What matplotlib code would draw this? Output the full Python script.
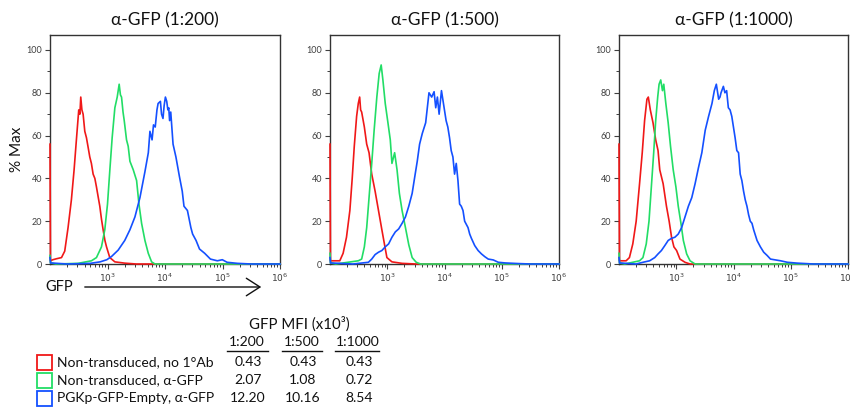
import numpy as np
import matplotlib
matplotlib.use("Agg")
import matplotlib.pyplot as plt
from matplotlib.patches import Rectangle
from matplotlib.lines import Line2D
from matplotlib.ticker import FixedLocator, FixedFormatter, NullFormatter

plt.rcParams['font.family'] = ['Lato', 'DejaVu Sans']

# ---------------- data (x in log10 GFP units, y in % Max) ----------------
titles = ["α-GFP (1:200)", "α-GFP (1:500)", "α-GFP (1:1000)"]
series_names = ["Non-transduced, no 1°Ab", "Non-transduced, α-GFP", "PGKp-GFP-Empty, α-GFP"]
dilutions = ["1:200", "1:500", "1:1000"]
mfi_200 = [0.43, 2.07, 12.20]
mfi_500 = [0.43, 1.08, 10.16]
mfi_1000 = [0.43, 0.72, 8.54]

red_200_x = [2.0, 2.008, 2.05, 2.12, 2.2, 2.256, 2.314, 2.372, 2.419, 2.459, 2.5, 2.52, 2.535, 2.555, 2.576,
             2.605, 2.634, 2.66, 2.692, 2.72, 2.75, 2.78, 2.808, 2.84, 2.866, 2.895, 2.924, 2.955, 2.983,
             3.04, 3.128, 3.3, 3.5, 6.0]
red_200_y = [56, 1.5, 2, 2.5, 3, 6, 17, 30, 44, 58, 72, 70, 78, 72, 70, 62, 59, 55, 50, 47, 42, 40, 36, 31,
             27, 21, 16, 11, 8, 3, 1, 0.4, 0, 0]

green_200_x = [2.0, 2.01, 2.1, 2.488, 2.721, 2.808, 2.895, 2.953, 3.0, 3.041, 3.081, 3.128, 3.169, 3.203,
               3.225, 3.244, 3.27, 3.291, 3.331, 3.36, 3.39, 3.448, 3.506, 3.547, 3.593, 3.651, 3.709, 3.767,
               3.826, 6.0]
green_200_y = [4, 0.5, 0, 0.3, 1.5, 3, 8, 16, 28, 44, 59, 73, 78, 84, 79, 78, 71, 67, 58, 55, 48, 44, 39, 28,
               19, 11, 5, 1, 0, 0]

blue_200_x = [2.0, 2.01, 2.3, 2.7, 2.872, 2.988, 3.07, 3.186, 3.30, 3.39, 3.477, 3.564, 3.65, 3.71, 3.738,
              3.775, 3.80, 3.83, 3.86, 3.88, 3.92, 3.94, 3.965, 3.985, 4.007, 4.03, 4.05, 4.065, 4.08, 4.1,
              4.14, 4.19, 4.25, 4.3, 4.33, 4.39, 4.45, 4.48, 4.54, 4.6, 4.69, 4.79, 4.91, 4.997, 5.08, 5.26,
              5.5, 6.0]
blue_200_y = [3, 0.5, 0, 0.3, 1, 2, 3.5, 6.5, 11, 16, 22, 31, 43, 52, 62, 58, 65, 64, 72, 75, 76, 70, 68, 74,
              78, 76, 72, 73, 67, 71, 56, 50, 41, 34, 27, 25, 17, 14, 11, 7, 5, 2.3, 1.5, 2, 0.8, 0.3, 0, 0]

red_500_x = [2.0, 2.008, 2.053, 2.171, 2.229, 2.288, 2.347, 2.388, 2.424, 2.465, 2.494, 2.518, 2.535, 2.553,
             2.6, 2.641, 2.682, 2.729, 2.788, 2.847, 2.906, 2.953, 2.994, 3.082, 3.259, 3.5, 6.0]
red_500_y = [56, 1.5, 1.5, 1.5, 5, 12.5, 25, 40, 55, 69, 75, 78, 72, 71, 64, 56, 52, 42, 34, 25, 16, 9, 3, 1,
             0.3, 0, 0]

green_500_x = [2.0, 2.01, 2.1, 2.494, 2.553, 2.6, 2.641, 2.682, 2.729, 2.771, 2.818, 2.859, 2.894, 2.924,
               2.965, 3.012, 3.053, 3.082, 3.129, 3.171, 3.212, 3.259, 3.318, 3.376, 3.435, 3.506, 3.582, 6.0]
green_500_y = [5, 0.5, 0, 1.5, 2.3, 8, 17, 31, 47, 62.5, 78, 89, 93, 86, 75, 66, 58, 47, 52, 44, 33, 25, 17,
               9, 3, 0.8, 0, 0]

blue_500_x = [2.0, 2.01, 2.4, 2.671, 2.729, 2.788, 2.847, 2.906, 2.965, 3.024, 3.082, 3.141, 3.2, 3.259,
              3.318, 3.376, 3.435, 3.482, 3.524, 3.565, 3.612, 3.671, 3.7, 3.729, 3.776, 3.818, 3.847, 3.876,
              3.906, 3.947, 3.999, 4.028, 4.058, 4.088, 4.117, 4.147, 4.176, 4.205, 4.235, 4.264, 4.293,
              4.323, 4.352, 4.411, 4.44, 4.47, 4.528, 4.587, 4.646, 4.705, 4.764, 4.852, 4.94, 5.058, 5.293,
              5.5, 6.0]
blue_500_y = [3, 0.5, 0, 0.8, 2.3, 4.4, 5.5, 6.3, 8, 9.4, 12.5, 15, 16.4, 19, 22, 27, 33, 41, 48, 56, 61, 66,
              73, 80, 78, 80.5, 73, 78, 70, 81, 72, 67, 64, 59, 53, 50, 42, 47, 39, 28, 27, 25, 20, 17, 14,
              12, 8.6, 6.3, 4.7, 3.4, 2.3, 1.9, 0.8, 0.5, 0.2, 0, 0]

red_1000_x = [2.0, 2.008, 2.035, 2.124, 2.182, 2.241, 2.3, 2.359, 2.406, 2.447, 2.488, 2.512, 2.547, 2.594,
              2.641, 2.682, 2.712, 2.771, 2.829, 2.876, 2.918, 2.959, 3.006, 3.065, 3.153, 3.241, 3.5, 6.0]
red_1000_y = [56, 1.5, 1.5, 1.5, 3, 9.4, 20, 37.5, 52, 67, 77, 78, 72, 66, 58, 53, 44, 37.5, 27, 20, 12.5,
              8, 6.3, 2.3, 0.8, 0, 0, 0]

green_1000_x = [2.0, 2.01, 2.1, 2.359, 2.418, 2.476, 2.524, 2.565, 2.606, 2.641, 2.676, 2.7, 2.729, 2.759,
                2.782, 2.818, 2.859, 2.9, 2.947, 2.994, 3.035, 3.082, 3.124, 3.182, 3.241, 3.329, 6.0]
green_1000_y = [5, 0.5, 0, 1.5, 3, 9.4, 20, 36, 52, 67, 78, 84, 86, 81, 84, 75, 66, 55, 44, 36, 27, 19, 11,
                4.7, 1.5, 0, 0]

blue_1000_x = [2.0, 2.01, 2.3, 2.418, 2.535, 2.624, 2.682, 2.741, 2.8, 2.859, 2.918, 2.976, 3.035, 3.094,
               3.153, 3.212, 3.271, 3.329, 3.388, 3.447, 3.506, 3.565, 3.624, 3.665, 3.7, 3.741, 3.764,
               3.782, 3.823, 3.85, 3.88, 3.91, 3.94, 3.97, 3.999, 4.028, 4.058, 4.088, 4.117, 4.146, 4.176,
               4.205, 4.235, 4.264, 4.293, 4.323, 4.352, 4.411, 4.47, 4.528, 4.587, 4.646, 4.734, 4.823,
               4.94, 5.117, 5.4, 6.0]
blue_1000_y = [3, 0.5, 0, 0.8, 1.5, 3, 4.7, 6.3, 8.6, 11, 12, 12.5, 14, 17, 22, 27, 31, 37.5, 45, 52, 62.5,
               69, 75, 81, 84, 77, 78, 80, 83, 80, 81, 73, 72, 69, 64, 59, 53, 52, 42, 39, 34, 30, 27, 23,
               20, 19, 16, 11, 8, 5.5, 4, 2.3, 1.9, 1.5, 0.8, 0.4, 0, 0]

panels = [
    [(red_200_x, red_200_y), (green_200_x, green_200_y), (blue_200_x, blue_200_y)],
    [(red_500_x, red_500_y), (green_500_x, green_500_y), (blue_500_x, blue_500_y)],
    [(red_1000_x, red_1000_y), (green_1000_x, green_1000_y), (blue_1000_x, blue_1000_y)],
]
mfi_table = [mfi_200, mfi_500, mfi_1000]

colors = ['#f01818', '#22dd66', '#1450ff']

# ---------------- layout ----------------
W, H = 850, 409
fig = plt.figure(figsize=(W / 100, H / 100), dpi=100)


def fx(px):
    return px / W


def fy(py):
    return 1 - py / H


axes_px = [(50, 280), (330, 559), (619, 848)]
top_px, bot_px = 35, 264
tick_col = '#404040'

for i, ((l, r), curves) in enumerate(zip(axes_px, panels)):
    ax = fig.add_axes([fx(l), fy(bot_px), fx(r) - fx(l), (bot_px - top_px) / H])
    for (xs, ys), c in zip(curves, colors):
        ax.plot(10 ** np.asarray(xs), ys, color=c, lw=1.2, zorder=3, clip_on=False,
                solid_joinstyle='round')
    ax.set_xscale('log')
    ax.set_xlim(1e2, 1e6)
    ax.set_ylim(0, 107)
    ax.xaxis.set_major_locator(FixedLocator([1e3, 1e4, 1e5, 1e6]))
    ax.xaxis.set_major_formatter(FixedFormatter([r'$10^3$', r'$10^4$', r'$10^5$', r'$10^6$']))
    minors = [m * 10 ** k for k in range(2, 6) for m in range(2, 10)]
    ax.xaxis.set_minor_locator(FixedLocator(minors))
    ax.xaxis.set_minor_formatter(NullFormatter())
    ax.set_yticks([0, 20, 40, 60, 80, 100])
    ax.set_yticks([10, 30, 50, 70, 90], minor=True)
    ax.tick_params(axis='both', which='major', direction='out', length=3.5, width=0.8,
                   labelsize=6.5, colors=tick_col, pad=2)
    ax.tick_params(axis='both', which='minor', direction='out', length=2, width=0.7, colors=tick_col)
    for s in ax.spines.values():
        s.set_linewidth(1.0)
        s.set_color('#333333')
    ax.set_title(titles[i], fontsize=12.5, pad=7, color='#111111')
    if i == 0:
        ax.set_ylabel('% Max', fontsize=11, labelpad=2, color='#111111')

# GFP arrow
fig.text(fx(45), fy(287), 'GFP', fontsize=10.5, ha='left', va='center', color='#111111')
fig.patches.append(matplotlib.patches.FancyArrowPatch(
    (fx(82), fy(287)), (fx(264), fy(287)), transform=fig.transFigure,
    arrowstyle='->,head_length=0.7,head_width=0.45', mutation_scale=14, lw=1.0, color='#111111'))

# ---------------- MFI table ----------------
txt_kw = dict(fontsize=10, color='#111111', va='center')
fig.text(fx(299), fy(324), 'GFP MFI (x10³)', ha='center', fontsize=10.8, color='#111111', va='center')
col_cx = [247, 302, 358]
col_span = [(227, 268), (282, 322), (335, 379)]
for cx, (a, b), d in zip(col_cx, col_span, dilutions):
    fig.text(fx(cx), fy(342), d, ha='center', **txt_kw)
    fig.lines.append(Line2D([fx(a), fx(b)], [fy(350.5), fy(350.5)], transform=fig.transFigure,
                            color='#111111', lw=1.0))
row_y = [362, 380, 398]
for j, (name, c, ry) in enumerate(zip(series_names, colors, row_y)):
    fig.patches.append(Rectangle((fx(37), fy(ry + 7.5)), fx(15), 15 / H, transform=fig.transFigure,
                                 fill=False, edgecolor=c, lw=1.3))
    fig.text(fx(57), fy(ry), name, ha='left', **txt_kw)
    for k, cx in enumerate(col_cx):
        fig.text(fx(cx + 1), fy(ry), f'{mfi_table[k][j]:.2f}', ha='center', **txt_kw)

fig.savefig('out.png', dpi=100)
